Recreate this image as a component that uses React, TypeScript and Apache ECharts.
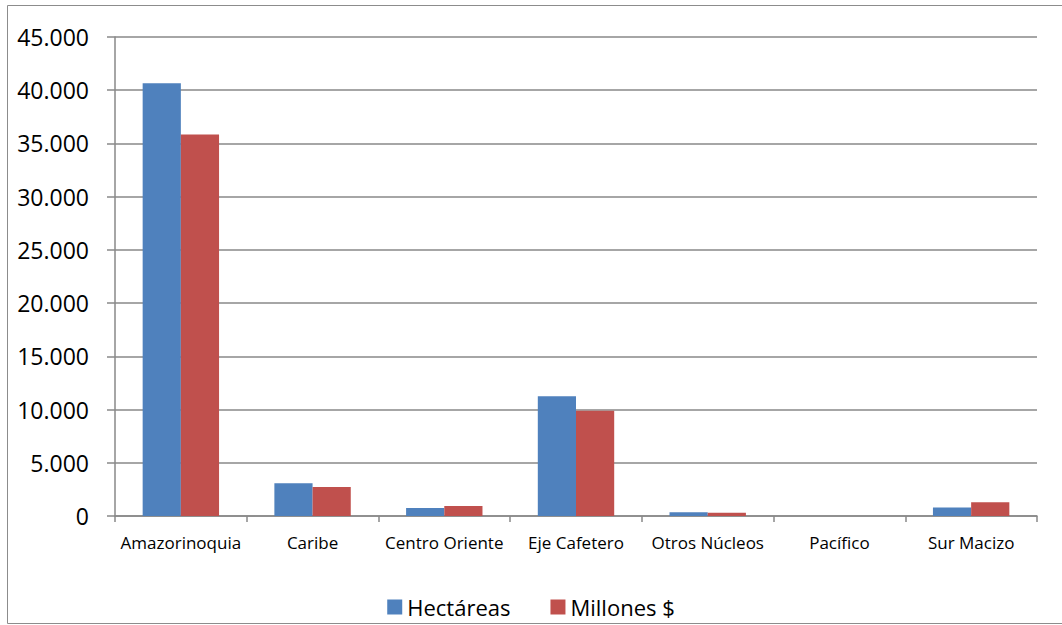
import React, { useEffect, useRef } from "react";
import * as echarts from "echarts";

const categories = [
  "Amazorinoquia",
  "Caribe",
  "Centro Oriente",
  "Eje Cafetero",
  "Otros Núcleos",
  "Pacífico",
  "Sur Macizo",
];
const hectareas = [40650, 3080, 750, 11250, 350, 0, 800];
const millones = [35850, 2720, 940, 9890, 300, 0, 1300];
const seriesNames = ["Hectáreas", "Millones $"];

const fmt = (v: number) => String(v).replace(/\B(?=(\d{3})+(?!\d))/g, ".");

export default function App() {
  const ref = useRef<HTMLDivElement>(null);
  useEffect(() => {
    if (!ref.current) return;
    const chart = echarts.init(ref.current, undefined, { renderer: "svg" });
    const font = "'Open Sans', sans-serif";
    const gray = "#888888";
    chart.setOption({
      animation: false,
      backgroundColor: "#ffffff",
      graphic: [
        {
          type: "rect",
          shape: { x: 7.5, y: 5.5, width: 1060, height: 618 },
          style: { fill: "none", stroke: "#8c8c8c", lineWidth: 1 },
          silent: true,
          z: -1,
        },
      ],
      grid: { left: 115, right: 25, top: 37, bottom: 109, containLabel: false },
      legend: {
        top: 589,
        left: "center",
        itemWidth: 15,
        itemHeight: 15,
        itemGap: 40,
        icon: "rect",
        textStyle: { fontFamily: font, fontSize: 22, color: "#000", lineHeight: 26 },
        data: seriesNames,
      },
      xAxis: {
        type: "category",
        data: categories,
        axisLine: { show: true, lineStyle: { color: gray, width: 1.5 } },
        axisTick: { show: true, length: 6, lineStyle: { color: gray, width: 1.5 } },
        axisLabel: { fontFamily: font, fontSize: 17, color: "#000", margin: 18, interval: 0 },
      },
      yAxis: {
        type: "value",
        min: 0,
        max: 45000,
        interval: 5000,
        axisLine: { show: true, lineStyle: { color: gray, width: 1.5 } },
        axisTick: { show: true, length: 8, lineStyle: { color: gray, width: 1.5 } },
        axisLabel: {
          fontFamily: font,
          fontSize: 23,
          color: "#000",
          margin: 26,
          formatter: (v: number) => fmt(v),
        },
        splitLine: { show: true, lineStyle: { color: gray, width: 1.5 } },
      },
      series: [
        {
          name: seriesNames[0],
          type: "bar",
          data: hectareas,
          itemStyle: { color: "#4F81BD" },
          barGap: "0%",
          barCategoryGap: "42%",
        },
        {
          name: seriesNames[1],
          type: "bar",
          data: millones,
          itemStyle: { color: "#C0504D" },
          barGap: "0%",
          barCategoryGap: "42%",
        },
      ],
    });
    return () => chart.dispose();
  }, []);
  return (
    <div
      ref={ref}
      style={{ position: "absolute", left: 0, top: 0, width: 1062, height: 625 }}
    />
  );
}
